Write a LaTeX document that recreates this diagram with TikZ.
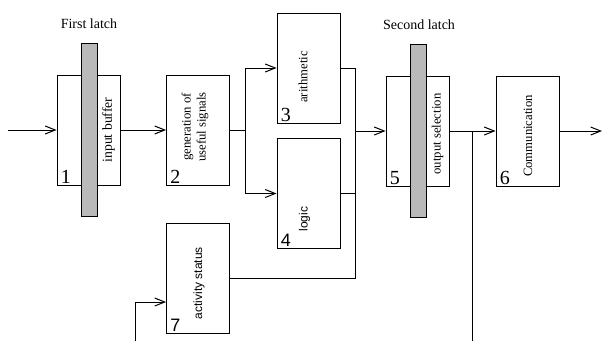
\documentclass[tikz,border=0pt]{standalone}
\usepackage{fontspec}
\setmainfont{Liberation Serif}
\setsansfont{Liberation Sans}
\usetikzlibrary{arrows.meta}
\begin{document}
\begin{tikzpicture}[x=1pt,y=-1pt,
  blk/.style={draw, line width=0.9pt, minimum width=63pt, minimum height=110pt, inner sep=0pt},
  latchbar/.style={draw, line width=0.7pt, fill=gray!55, minimum width=16pt, minimum height=173pt, inner sep=0pt},
  ln/.style={line width=1pt},
  arr/.style={line width=1pt, -{Straight Barb[length=10pt,width=8pt,line width=1pt]}},
  lbl/.style={font=\fontsize{12.7}{15}\selectfont, inner sep=0pt, align=center},
  slbl/.style={font=\sffamily\fontsize{12}{14}\selectfont, inner sep=0pt},
  head/.style={font=\fontsize{14}{16}\selectfont, inner sep=0pt},
  num/.style={font=\fontsize{20}{20}\selectfont, inner sep=0pt, anchor=base west},
  snum/.style={font=\sffamily\fontsize{18}{18}\selectfont, inner sep=0pt, anchor=base west}
]
\useasboundingbox (0,0) rectangle (602,341);
% boxes
\node[blk] (box1) at (88.5,130) {};
\node[blk] (box2) at (198,130) {};
\node[blk] (box3) at (308.5,68) {};
\node[blk] (box4) at (308.5,193.5) {};
\node[blk] (box5) at (417.5,131) {};
\node[blk] (box6) at (527.5,131) {};
\node[blk] (box7) at (198,278.5) {};
% latches
\node[latchbar] (latch1) at (89,129.5) {};
\node[latchbar] (latch2) at (418,130.5) {};
\node[head] (t1) at (89,24) {First latch};
\node[head] (t2) at (419,25) {Second latch};
% labels
\node[lbl, rotate=90, font=\fontsize{13.7}{15}\selectfont] (l1) at (108.5,130) {input buffer};
\node[lbl, rotate=90] (l2) at (195,127) {generation of\\useful signals};
\node[lbl, rotate=90] (l3) at (303,77) {arithmetic};
\node[slbl, rotate=90] (l4) at (304.5,219) {logic};
\node[lbl, rotate=90] (l5) at (437.5,134) {output selection};
\node[lbl, rotate=90] (l6) at (528,136) {Communication};
\node[slbl, rotate=90] (l7) at (199,283) {activity status};
% numbers
\node[num] (n1) at ([xshift=4pt,yshift=2pt]box1.south west) {1};
\node[num] (n2) at ([xshift=4pt,yshift=2pt]box2.south west) {2};
\node[num] (n3) at ([xshift=4pt,yshift=2pt]box3.south west) {3};
\node[snum] (n4) at ([xshift=4pt,yshift=2pt]box4.south west) {4};
\node[num] (n5) at ([xshift=4pt,yshift=2pt]box5.south west) {5};
\node[num] (n6) at ([xshift=4pt,yshift=2pt]box6.south west) {6};
\node[snum] (n7) at ([xshift=4pt,yshift=2pt]box7.south west) {7};
% coordinates
\coordinate (in1) at (8,130);
\coordinate (split) at (245,130);
\coordinate (bustop) at (355,68);
\coordinate (busbot) at (355,278.5);
\coordinate (busmid) at (355,131);
\coordinate (br) at (472,131);
\coordinate (brend) at (472,341);
\coordinate (out6) at (602,131);
\coordinate (in7) at (135,341);
\coordinate (y302) at (0,302);
% connectors
\draw[arr] (in1) -- (box1.west);
\draw[arr] (box1.east) -- (box2.west);
\draw[ln] (box2.east) -- (split);
\draw[arr] (split) |- (box3.west);
\draw[arr] (split) |- (box4.west);
\draw[ln] (box3.east) -- (bustop) -- (busbot) -- (box7.east);
\draw[ln] (box4.east) -- (box4.east -| bustop);
\draw[arr] (busmid) -- (box5.west);
\draw[arr] (box5.east) -- (box6.west);
\draw[ln] (br) -- (brend);
\draw[arr] (box6.east) -- (out6);
\draw[arr] (in7) |- (box7.west |- y302);
\end{tikzpicture}
\end{document}
